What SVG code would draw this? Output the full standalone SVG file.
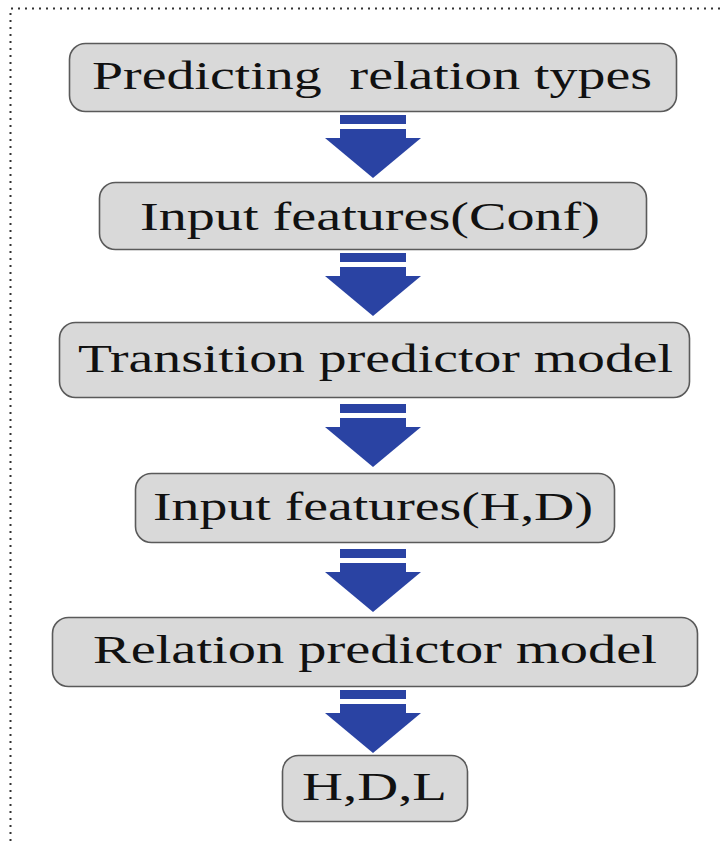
<svg xmlns="http://www.w3.org/2000/svg" width="721" height="841" viewBox="0 0 721 841">
  <style>
    .box { fill: #d9d9d9; stroke: #5a5a5a; stroke-width: 1.6; }
    .label { font-family: "Liberation Serif", "Times New Roman", serif; font-size: 40px; fill: #111; }
    .arrow { fill: #2a43a3; }
    .frame { fill: none; stroke: #333; stroke-width: 2; stroke-dasharray: 2 5; }
  </style>
  <defs>
    <!-- block arrow: short bar, gap, shaft and triangular head; origin at bar top centre -->
    <g id="blockArrow">
      <rect x="-33" y="0" width="66" height="9"/>
      <rect x="-33" y="14" width="66" height="10"/>
      <polygon points="-48,23 48,23 0,63"/>
    </g>
  </defs>

  <rect width="721" height="841" fill="#ffffff"/>

  <!-- dotted frame (top and left edges) -->
  <path class="frame" d="M10.5,841 V8.5 H721"/>

  <g id="connectors" class="arrow">
    <use href="#blockArrow" x="373" y="115"/>
    <use href="#blockArrow" x="373" y="253"/>
    <use href="#blockArrow" x="373" y="404"/>
    <use href="#blockArrow" x="373" y="549"/>
    <use href="#blockArrow" x="373" y="690"/>
  </g>

  <g id="node-predicting">
    <rect class="box" x="69.5" y="43.5" width="607" height="68" rx="16"/>
    <text class="label" x="92" y="89" textLength="560" lengthAdjust="spacingAndGlyphs" xml:space="preserve">Predicting  relation types</text>
  </g>

  <g id="node-input-conf">
    <rect class="box" x="99.5" y="182.5" width="547" height="67" rx="16"/>
    <text class="label" x="140" y="230" textLength="460" lengthAdjust="spacingAndGlyphs">Input features(Conf)</text>
  </g>

  <g id="node-transition">
    <rect class="box" x="59.5" y="322.5" width="630" height="75" rx="16"/>
    <text class="label" x="78" y="372" textLength="595" lengthAdjust="spacingAndGlyphs">Transition predictor model</text>
  </g>

  <g id="node-input-hd">
    <rect class="box" x="135.5" y="473.5" width="479" height="69" rx="16"/>
    <text class="label" x="153" y="520" textLength="440" lengthAdjust="spacingAndGlyphs">Input features(H,D)</text>
  </g>

  <g id="node-relation">
    <rect class="box" x="52.5" y="617.5" width="645" height="69" rx="16"/>
    <text class="label" x="93" y="663" textLength="564" lengthAdjust="spacingAndGlyphs">Relation predictor model</text>
  </g>

  <g id="node-hdl">
    <rect class="box" x="282.5" y="755.5" width="185" height="66" rx="16"/>
    <text class="label" x="302" y="800" textLength="145" lengthAdjust="spacingAndGlyphs">H,D,L</text>
  </g>
</svg>
